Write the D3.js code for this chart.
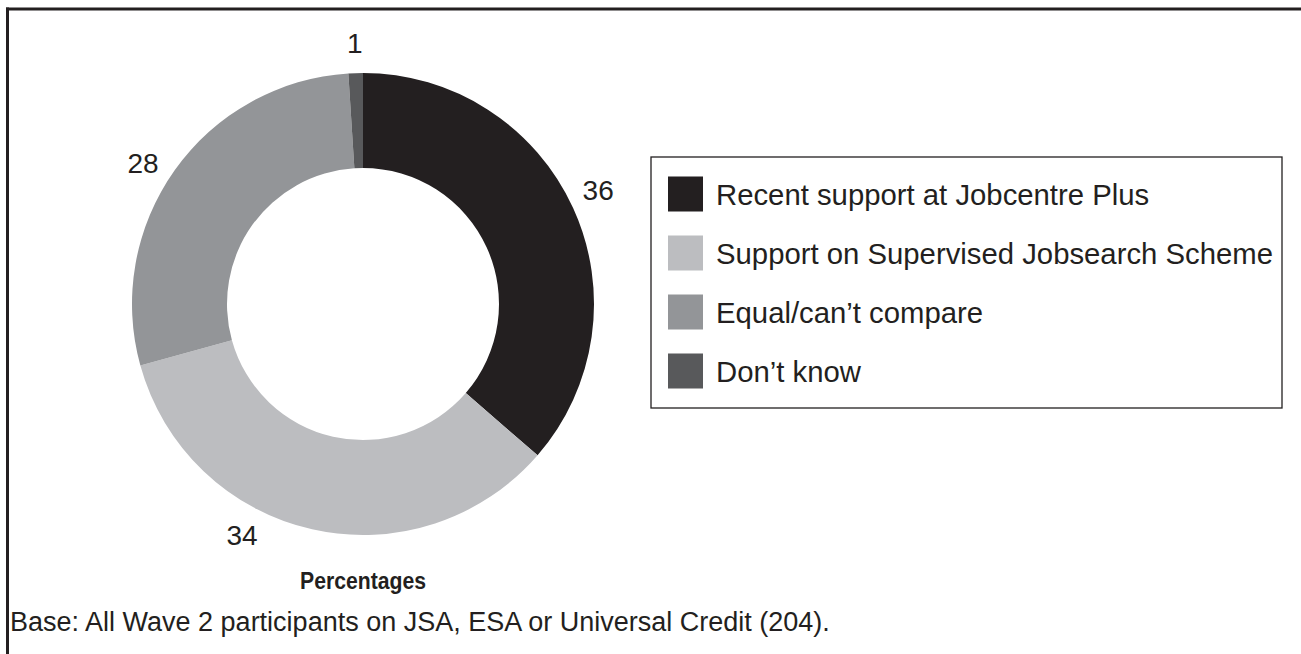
<!DOCTYPE html>
<html>
<head>
<meta charset="utf-8">
<script src="https://cdn.jsdelivr.net/npm/d3@7"></script>
<style>
  html, body { margin: 0; padding: 0; background: #fff; }
  svg { display: block; font-family: "Liberation Sans", Arial, Helvetica, sans-serif; }
</style>
</head>
<body>
<svg id="chart" width="1301" height="654"></svg>
<script>
// Survey answers: which support was better
const categories = [
  "Recent support at Jobcentre Plus",
  "Support on Supervised Jobsearch Scheme",
  "Equal/can\u2019t compare",
  "Don\u2019t know"
];
const values = [36, 34, 28, 1];
const colours = ["#231f20", "#bcbdc0", "#939598", "#58595b"];
const title = "Percentages";
const baseNote = "Base: All Wave 2 participants on JSA, ESA or Universal Credit (204).";

const ink = "#231f20";
const svg = d3.select("#chart");

// Frame: rules along the top and left edges
svg.append("line").attr("x1", 6).attr("x2", 1301).attr("y1", 9).attr("y2", 9)
  .attr("stroke", ink).attr("stroke-width", 3);
svg.append("line").attr("x1", 7.5).attr("x2", 7.5).attr("y1", 7.5).attr("y2", 654)
  .attr("stroke", ink).attr("stroke-width", 3);

// Donut
const cx = 363, cy = 304, rOuter = 231, rInner = 136;
const pie = d3.pie().sort(null).value(d => d);
const arcs = pie(values);
const arc = d3.arc().innerRadius(rInner).outerRadius(rOuter);

const g = svg.append("g").attr("transform", `translate(${cx},${cy})`);
g.selectAll("path.slice").data(arcs).join("path")
  .attr("class", "slice")
  .attr("d", arc)
  .attr("fill", (d, i) => colours[i]);

// Value labels placed outside the ring along each slice's mid-angle
const labelRadius = 261;
const labelShift = [-0.02, 0.26, -0.05, 0]; // radians, keeps the lower label clear of the title
g.selectAll("text.value").data(arcs).join("text")
  .attr("class", "value")
  .each(function (d, i) {
    const a = (d.startAngle + d.endAngle) / 2 + labelShift[i];
    d3.select(this)
      .attr("x", labelRadius * Math.sin(a))
      .attr("y", -labelRadius * Math.cos(a));
  })
  .attr("text-anchor", "middle")
  .attr("dominant-baseline", "central")
  .attr("font-size", 28)
  .attr("fill", ink)
  .text(d => d.data);

// Title under the donut and base note
svg.append("text").attr("x", cx).attr("y", 589)
  .attr("text-anchor", "middle").attr("font-size", 23.5).attr("font-weight", "bold")
  .attr("textLength", 126).attr("lengthAdjust", "spacingAndGlyphs")
  .attr("fill", ink).text(title);
svg.append("text").attr("x", 10).attr("y", 631)
  .attr("font-size", 27).attr("fill", ink).text(baseNote);

// Legend
const legend = svg.append("g");
legend.append("rect").attr("x", 651).attr("y", 157).attr("width", 631).attr("height", 251)
  .attr("fill", "none").attr("stroke", ink).attr("stroke-width", 1.3);
const rowY = d3.scalePoint().domain(categories).range([194, 371]);
const rows = legend.selectAll("g.row").data(categories).join("g")
  .attr("class", "row")
  .attr("transform", d => `translate(668,${rowY(d)})`);
rows.append("rect").attr("x", 0).attr("y", -17.5).attr("width", 35).attr("height", 35)
  .attr("fill", (d, i) => colours[i]);
rows.append("text").attr("x", 48).attr("y", 0)
  .attr("dominant-baseline", "central")
  .attr("font-size", 29.3).attr("fill", ink)
  .text(d => d);
</script>
</body>
</html>
